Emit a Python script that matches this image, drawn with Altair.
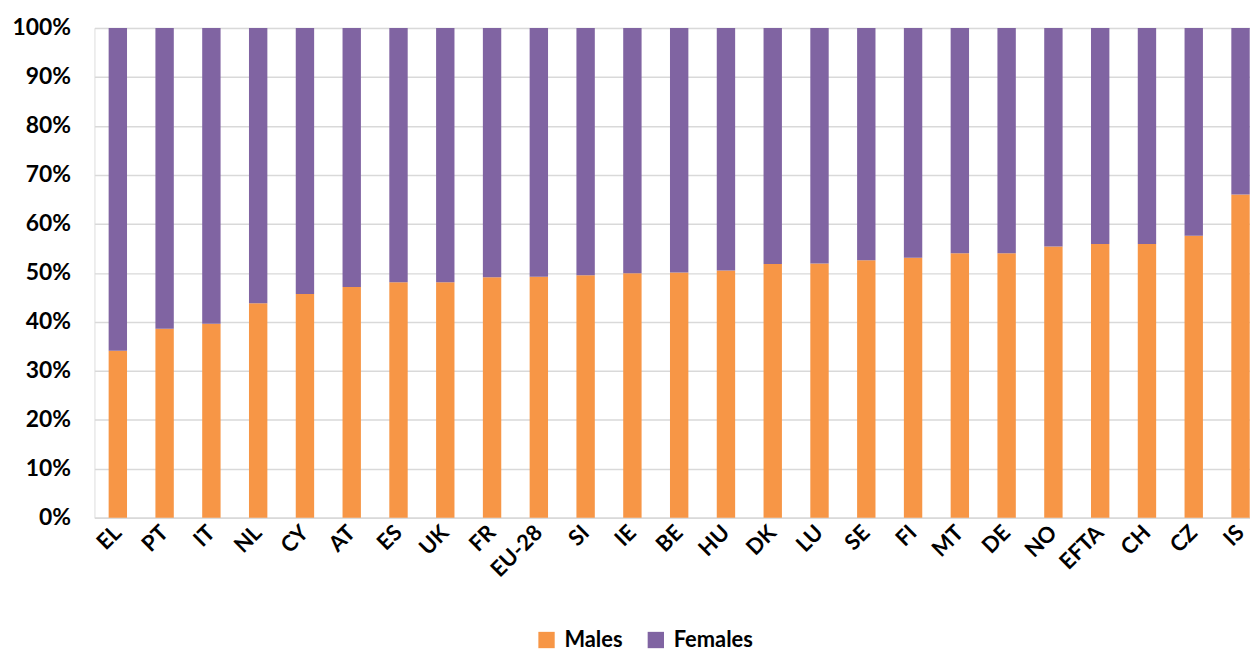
import altair as alt
import pandas as pd

countries = ["EL", "PT", "IT", "NL", "CY", "AT", "ES", "UK", "FR", "EU-28", "SI", "IE", "BE",
             "HU", "DK", "LU", "SE", "FI", "MT", "DE", "NO", "EFTA", "CH", "CZ", "IS"]
males = [34.1, 38.6, 39.6, 43.8, 45.7, 47.1, 48.1, 48.1, 49.1, 49.2, 49.5, 49.9, 50.1,
         50.5, 51.8, 51.9, 52.6, 53.1, 54.0, 54.0, 55.4, 55.9, 55.9, 57.6, 66.0]
females = [round(100 - m, 1) for m in males]
series = ["Males", "Females"]
colors = ["#F79646", "#8064A2"]

rows = []
for c, m, f in zip(countries, males, females):
    rows.append({"country": c, "sex": "Males", "share": m / 100, "ord": 0})
    rows.append({"country": c, "sex": "Females", "share": f / 100, "ord": 1})
df = pd.DataFrame(rows)

FONT = "Lato"

chart = alt.Chart(df).mark_bar(width=18.5).encode(
    x=alt.X("country:N", sort=countries, title=None,
            scale=alt.Scale(paddingInner=0.6, paddingOuter=0.3, range=[0, 1177]),
            axis=alt.Axis(labelAngle=-45, labelFont=FONT, labelFontSize=22, labelFontWeight="bold",
                          labelColor="#000000", ticks=False, domainColor="#d9d9d9", domainWidth=1.5,
                          labelPadding=11, labelAlign="right", labelBaseline="middle")),
    y=alt.Y("share:Q", stack="zero", title=None,
            scale=alt.Scale(domain=[0, 1]),
            axis=alt.Axis(format=".0%", values=[i / 10 for i in range(11)], labelFont=FONT,
                          labelFontSize=23, labelFontWeight="bold", labelColor="#000000",
                          ticks=False, domain=False, grid=True, gridColor="#d9d9d9",
                          gridWidth=1.5, labelPadding=24)),
    color=alt.Color("sex:N", scale=alt.Scale(domain=series, range=colors),
                    legend=alt.Legend(title=None, orient="none", legendX=444, legendY=605,
                                      direction="horizontal", symbolType="square", symbolSize=270,
                                      symbolStrokeWidth=0, labelFont=FONT, labelFontSize=22,
                                      labelFontWeight="bold", labelColor="#000000",
                                      columnPadding=22, labelOffset=7)),
    order=alt.Order("ord:Q", sort="ascending"),
).properties(
    width=1163, height=493,
    autosize=alt.AutoSizeParams(type="none"),
    padding={"left": 87, "top": 18, "right": 0, "bottom": 136},
).configure_view(stroke=None).configure(background="white")

chart.save("out.html", embed_options={"renderer": "svg", "actions": False})
